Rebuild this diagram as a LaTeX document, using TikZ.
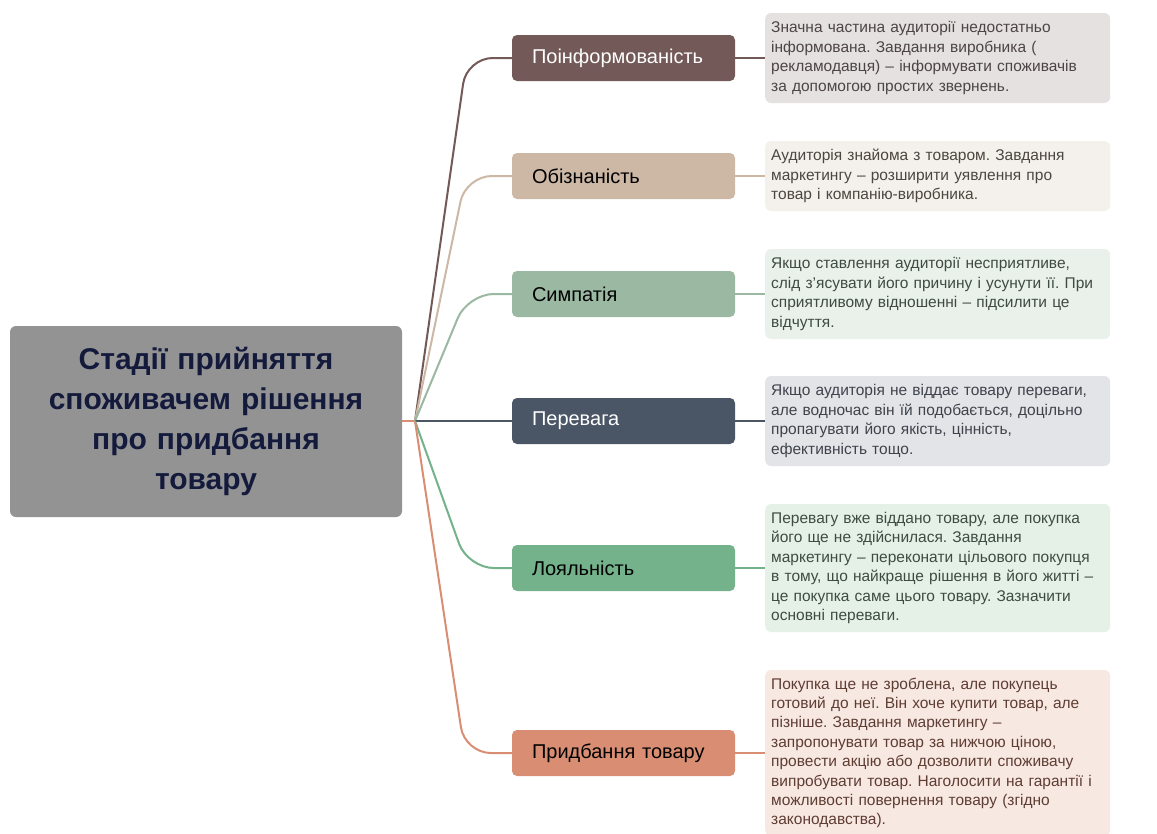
\documentclass[tikz,border=0pt]{standalone}
\usepackage{fontspec}
\setmainfont{Liberation Sans}
\frenchspacing
\begin{document}
\begin{tikzpicture}[x=1pt,y=-1pt,
  stagebox/.style={rounded corners=5pt, minimum width=223pt, minimum height=46pt,
    text width=183pt, align=left, inner xsep=20pt, inner ysep=0pt,
    font=\fontsize{20pt}{22pt}\selectfont},
  infobox/.style={rounded corners=6pt, anchor=west, text width=333pt, inner xsep=6pt,
    inner ysep=0pt, align=left, font=\fontsize{15.5pt}{19.4pt}\selectfont},
  link/.style={line width=2pt, rounded corners=26pt},
]
\definecolor{cA}{HTML}{735A58}
\definecolor{cB}{HTML}{CDB8A5}
\definecolor{cC}{HTML}{9BB8A3}
\definecolor{cD}{HTML}{4A5565}
\definecolor{cE}{HTML}{73B28A}
\definecolor{cF}{HTML}{D98E74}
\definecolor{bA}{HTML}{E5E1E1}
\definecolor{bB}{HTML}{F4F1EC}
\definecolor{bC}{HTML}{E9F1EA}
\definecolor{bD}{HTML}{E3E4E8}
\definecolor{bE}{HTML}{E5F1E7}
\definecolor{bF}{HTML}{F8E8E2}
\definecolor{tA}{HTML}{4D4544}
\definecolor{tB}{HTML}{4D4640}
\definecolor{tC}{HTML}{3F4A43}
\definecolor{tD}{HTML}{3E434B}
\definecolor{tE}{HTML}{3D4C41}
\definecolor{tF}{HTML}{5E3D33}
\definecolor{rootbg}{HTML}{939393}
\definecolor{roottx}{HTML}{141A3C}
\useasboundingbox[fill=white] (0,0) rectangle (1157,833);

\node[rounded corners=6pt, fill=rootbg, minimum width=392pt, minimum height=191pt,
  text width=380pt, align=center, text=roottx,
  font=\fontsize{30pt}{40pt}\selectfont\bfseries] (root) at (206,421.5)
  {Стадії прийняття\\споживачем рішення\\про придбання\\товару};
\coordinate (j) at (415,421);

\node[stagebox, fill=cA, text=white] (s1) at (623.5,58) {Поінформованість};
\node[stagebox, fill=cB, text=black] (s2) at (623.5,176) {Обізнаність};
\node[stagebox, fill=cC, text=black] (s3) at (623.5,294) {Симпатія};
\node[stagebox, fill=cD, text=white] (s4) at (623.5,421) {Перевага};
\node[stagebox, fill=cE, text=black] (s5) at (623.5,568) {Лояльність};
\node[stagebox, fill=cF, text=black] (s6) at (623.5,753) {Придбання товару};

\node[infobox, fill=bA, text=tA, minimum height=90pt] (d1) at (765,58)
  {Значна частина аудиторії недостатньо\\інформована. Завдання виробника (\\рекламодавця) – інформувати споживачів\\за допомогою простих звернень.};
\node[infobox, fill=bB, text=tB, minimum height=70pt] (d2) at (765,176)
  {Аудиторія знайома з товаром. Завдання\\маркетингу – розширити уявлення про\\товар і компанію-виробника.};
\node[infobox, fill=bC, text=tC, minimum height=90pt] (d3) at (765,294)
  {Якщо ставлення аудиторії несприятливе,\\слід з'ясувати його причину і усунути її. При\\сприятливому відношенні – підсилити це\\відчуття.};
\node[infobox, fill=bD, text=tD, minimum height=90pt] (d4) at (765,421)
  {Якщо аудиторія не віддає товару переваги,\\але водночас він їй подобається, доцільно\\пропагувати його якість, цінність,\\ефективність тощо.};
\node[infobox, fill=bE, text=tE, minimum height=128pt] (d5) at (765,568)
  {Перевагу вже віддано товару, але покупка\\його ще не здійснилася. Завдання\\маркетингу – переконати цільового покупця\\в тому, що найкраще рішення в його житті –\\це покупка саме цього товару. Зазначити\\основні переваги.};
\node[infobox, fill=bF, text=tF, minimum height=166pt] (d6) at (765,753)
  {Покупка ще не зроблена, але покупець\\готовий до неї. Він хоче купити товар, але\\пізніше. Завдання маркетингу –\\запропонувати товар за нижчою ціною,\\провести акцію або дозволити споживачу\\випробувати товар. Наголосити на гарантії і\\можливості повернення товару (згідно\\законодавства).};

\draw[link, cF] (root.east |- j) -- (j);
\draw[link, cA] (j) -- ([xshift=-45pt]s1.west) -- (s1.west);
\draw[link, cB] (j) -- ([xshift=-46pt]s2.west) -- (s2.west);
\draw[link, cC] (j) -- ([xshift=-44pt]s3.west) -- (s3.west);
\draw[link, cD] (j) -- (s4.west);
\draw[link, cE] (j) -- ([xshift=-44pt]s5.west) -- (s5.west);
\draw[link, cF] (j) -- ([xshift=-47pt]s6.west) -- (s6.west);

\foreach \i/\c in {1/cA,2/cB,3/cC,4/cD,5/cE,6/cF}
  \draw[line width=2pt, \c] (s\i.east) -- (d\i.west);
\end{tikzpicture}
\end{document}
